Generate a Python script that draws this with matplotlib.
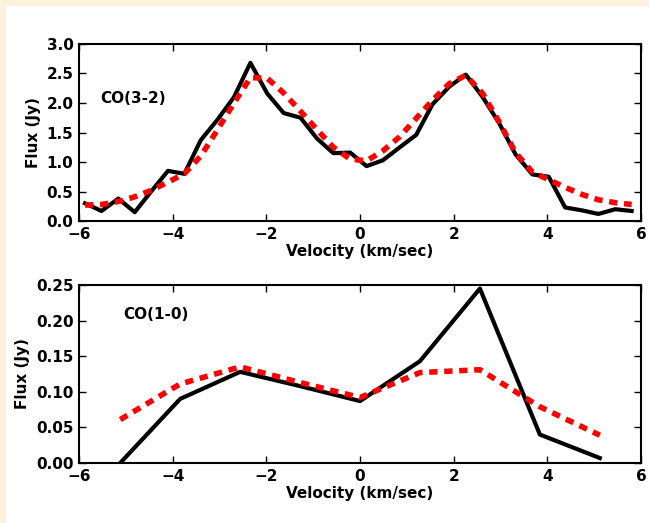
import matplotlib
matplotlib.use('Agg')
import matplotlib.pyplot as plt
from matplotlib.patches import Rectangle

### Data ###

# CO(3-2)
vel_32 = [-5.87, -5.52, -5.16, -4.81, -4.46, -4.10, -3.75, -3.40, -3.04, -2.69,
          -2.34, -1.98, -1.63, -1.27, -0.92, -0.57, -0.21, 0.14, 0.49, 0.85,
          1.20, 1.55, 1.91, 2.26, 2.62, 2.97, 3.32, 3.68, 4.03, 4.38,
          4.74, 5.09, 5.45, 5.80]
obs_32 = [0.30, 0.17, 0.38, 0.15, 0.50, 0.85, 0.80, 1.37, 1.72, 2.10,
          2.68, 2.16, 1.83, 1.75, 1.40, 1.15, 1.16, 0.93, 1.03, 1.25,
          1.46, 1.98, 2.28, 2.48, 2.10, 1.66, 1.13, 0.79, 0.75, 0.23,
          0.18, 0.12, 0.20, 0.17]
mod_32 = [0.27, 0.28, 0.33, 0.41, 0.52, 0.66, 0.80, 1.10, 1.55, 2.00,
          2.43, 2.42, 2.17, 1.86, 1.55, 1.25, 1.05, 1.02, 1.19, 1.43,
          1.74, 2.05, 2.33, 2.47, 2.16, 1.68, 1.16, 0.83, 0.70, 0.57,
          0.45, 0.36, 0.31, 0.28]

# CO(1-0)
vel_10 = [-5.12, -3.84, -2.56, -1.28, 0.0, 1.28, 2.56, 3.84, 5.12]
obs_10 = [0.0, 0.090, 0.128, 0.108, 0.087, 0.143, 0.245, 0.040, 0.007]
mod_10 = [0.061, 0.111, 0.135, 0.113, 0.092, 0.127, 0.131, 0.079, 0.039]

xticks = [-6, -4, -2, 0, 2, 4, 6]
yticks_32 = [0.0, 0.5, 1.0, 1.5, 2.0, 2.5, 3.0]
yticks_10 = [0.00, 0.05, 0.10, 0.15, 0.20, 0.25]


### Graphs ###
plt.rcParams['font.family'] = 'DejaVu Sans'
plt.rcParams['font.weight'] = 'bold'
plt.rcParams['font.size'] = 11

fig = plt.figure(figsize=(6.49, 5.23), dpi=100, facecolor='#fdf0dc')
fig.patches.append(Rectangle((6/649, 0), 1, 1 - 6/523, transform=fig.transFigure,
                             facecolor='white', edgecolor='none', zorder=-1))

ax1 = fig.add_axes([0.1217, 0.5774, 0.866, 0.3385])
ax2 = fig.add_axes([0.1217, 0.1147, 0.866, 0.3404])

ax1.plot(vel_32, obs_32, '-k', lw=3)
ax1.plot(vel_32, mod_32, color='red', lw=4, linestyle=(0, (1.5, 1.2)))
ax1.text(-5.55, 2.08, 'CO(3-2)', ha='left', va='center', fontweight='bold')
ax1.set_ylim(0, 3.0)
ax1.set_yticks(yticks_32)
ax1.set_yticklabels(['%.1f' % t for t in yticks_32])

ax2.plot(vel_10, obs_10, '-k', lw=3)
ax2.plot(vel_10, mod_10, color='red', lw=4, linestyle=(0, (1.5, 1.2)))
ax2.text(-5.06, 0.208, 'CO(1-0)', ha='left', va='center', fontweight='bold')
ax2.set_ylim(0, 0.25)
ax2.set_yticks(yticks_10)
ax2.set_yticklabels(['%.2f' % t for t in yticks_10])

for ax in (ax1, ax2):
    ax.set_xlim(-6, 6)
    ax.set_xticks(xticks)
    ax.set_xticklabels(['\u2212%d' % -t if t < 0 else '%d' % t for t in xticks])
    ax.set_xlabel('Velocity (km/sec)', fontweight='bold', labelpad=2)
    ax.set_ylabel('Flux (Jy)', fontweight='bold')
    ax.tick_params(direction='in', top=True, right=True, length=5, width=1, pad=4)
    for s in ax.spines.values():
        s.set_linewidth(1.5)
    ax.patch.set_facecolor('white')

fig.savefig('out.png', dpi=100, facecolor=fig.get_facecolor())
